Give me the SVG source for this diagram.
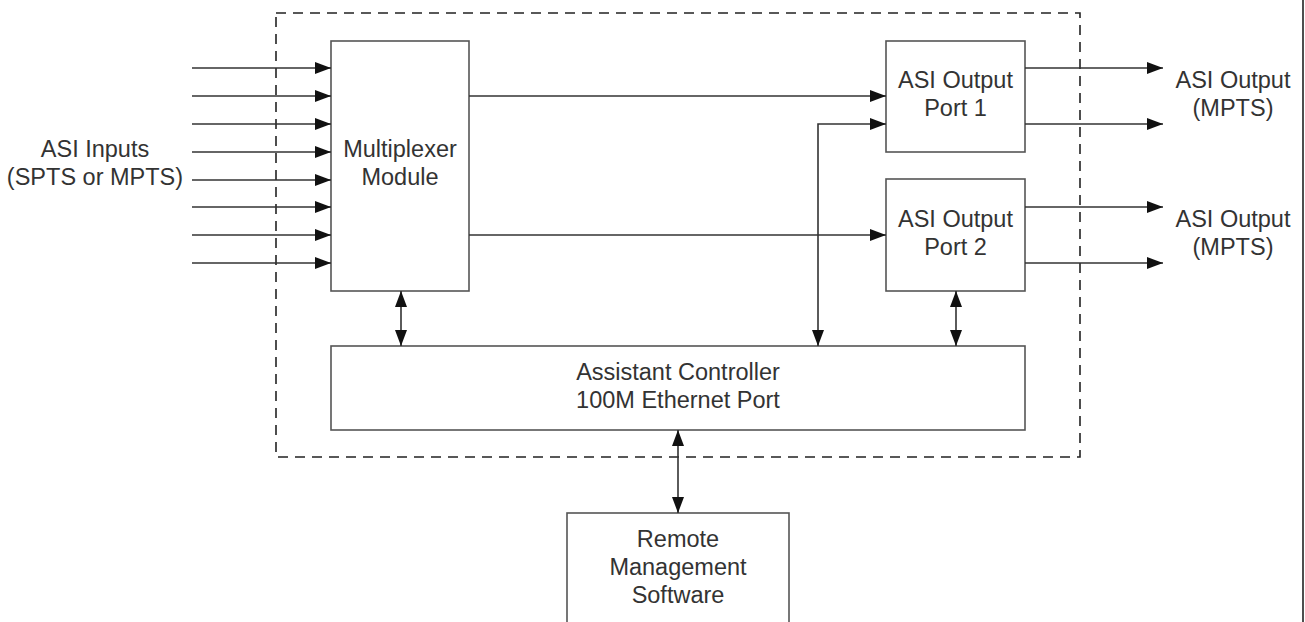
<svg xmlns="http://www.w3.org/2000/svg" width="1305" height="622" viewBox="0 0 1305 622">
<style>
.box{fill:#fff;stroke:#555;stroke-width:1.6}
.ln{fill:none;stroke:#333;stroke-width:1.6}
.t{font-family:"Liberation Sans",Arial,sans-serif;font-size:23.5px;fill:#333;text-anchor:middle}
</style>
<defs>
<marker id="ah" markerUnits="userSpaceOnUse" markerWidth="17" markerHeight="12" refX="16" refY="6" orient="auto-start-reverse" viewBox="0 0 17 12">
<path d="M0,0 L16,6 L0,12 z" fill="#111"/>
</marker>
</defs>
<rect width="1305" height="622" fill="#fff"/>
<line x1="1303" y1="0" x2="1303" y2="622" stroke="#222" stroke-width="1.6"/>
<rect id="enclosure" x="276" y="13" width="804" height="444" fill="none" stroke="#222" stroke-width="1.6" stroke-dasharray="10,7"/>
<g id="inputs-label">
<text class="t" x="95" y="157">ASI Inputs</text>
<text class="t" x="95" y="185">(SPTS or MPTS)</text>
</g>
<g id="mux">
<rect class="box" x="331" y="41" width="138" height="250"/>
<text class="t" x="400" y="157">Multiplexer</text>
<text class="t" x="400" y="185">Module</text>
</g>
<g id="port1">
<rect class="box" x="886" y="41" width="139" height="111"/>
<text class="t" x="955.5" y="88">ASI Output</text>
<text class="t" x="955.5" y="116">Port 1</text>
</g>
<g id="port2">
<rect class="box" x="886" y="179" width="139" height="112"/>
<text class="t" x="955.5" y="227">ASI Output</text>
<text class="t" x="955.5" y="255">Port 2</text>
</g>
<g id="out1-label">
<text class="t" x="1233" y="88">ASI Output</text>
<text class="t" x="1233" y="116">(MPTS)</text>
</g>
<g id="out2-label">
<text class="t" x="1233" y="227">ASI Output</text>
<text class="t" x="1233" y="255">(MPTS)</text>
</g>
<g id="controller">
<rect class="box" x="331" y="346" width="694" height="84"/>
<text class="t" x="678" y="380">Assistant Controller</text>
<text class="t" x="678" y="408">100M Ethernet Port</text>
</g>
<g id="remote">
<rect class="box" x="567" y="513" width="222" height="120"/>
<text class="t" x="678" y="547">Remote</text>
<text class="t" x="678" y="575">Management</text>
<text class="t" x="678" y="603">Software</text>
</g>
<g id="connectors" class="ln">
<line x1="192" y1="68" x2="331" y2="68" marker-end="url(#ah)"/>
<line x1="192" y1="96" x2="331" y2="96" marker-end="url(#ah)"/>
<line x1="192" y1="124" x2="331" y2="124" marker-end="url(#ah)"/>
<line x1="192" y1="152" x2="331" y2="152" marker-end="url(#ah)"/>
<line x1="192" y1="180" x2="331" y2="180" marker-end="url(#ah)"/>
<line x1="192" y1="207" x2="331" y2="207" marker-end="url(#ah)"/>
<line x1="192" y1="235" x2="331" y2="235" marker-end="url(#ah)"/>
<line x1="192" y1="263" x2="331" y2="263" marker-end="url(#ah)"/>
<line x1="469" y1="96" x2="886" y2="96" marker-end="url(#ah)"/>
<line x1="469" y1="235" x2="886" y2="235" marker-end="url(#ah)"/>
<polyline points="818,346 818,124 886,124" marker-start="url(#ah)" marker-end="url(#ah)"/>
<line x1="1025" y1="68" x2="1163" y2="68" marker-end="url(#ah)"/>
<line x1="1025" y1="124" x2="1163" y2="124" marker-end="url(#ah)"/>
<line x1="1025" y1="207" x2="1163" y2="207" marker-end="url(#ah)"/>
<line x1="1025" y1="263" x2="1163" y2="263" marker-end="url(#ah)"/>
<line x1="401" y1="291" x2="401" y2="346" marker-start="url(#ah)" marker-end="url(#ah)"/>
<line x1="956" y1="291" x2="956" y2="346" marker-start="url(#ah)" marker-end="url(#ah)"/>
<line x1="678" y1="430" x2="678" y2="513" marker-start="url(#ah)" marker-end="url(#ah)"/>
</g>
</svg>
